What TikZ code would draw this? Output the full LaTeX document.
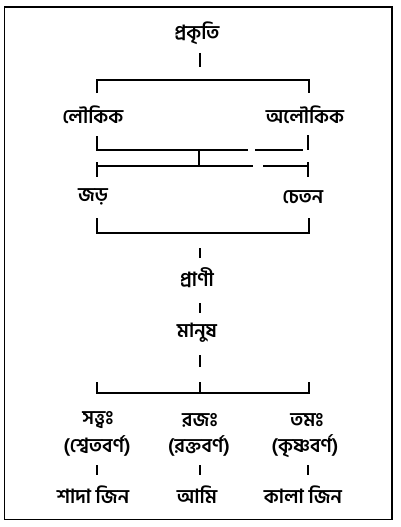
\documentclass[tikz,border=0pt]{standalone}
\usepackage{fontspec}
\newfontfamily\bn[Script=Bengali]{Hind Siliguri}
\begin{document}
\begin{tikzpicture}[x=1pt,y=-1pt,
  ln/.style={line width=1.1pt},
  lbl/.style={font=\bn\bfseries\fontsize{19.5}{23}\selectfont, inner sep=0pt, anchor=center}]
\useasboundingbox (0,0) rectangle (400,527);
\draw[line width=1.5pt] (4.5,7) rectangle (392,519.5);
% labels
\node[lbl] (prakriti) at (197,33) {প্রকৃতি};
\node[lbl] (laukik) at (93,115) {লৌকিক};
\node[lbl] (alaukik) at (305,115) {অলৌকিক};
\node[lbl] (jar) at (93,197) {জড়};
\node[lbl] (chetan) at (303,197) {চেতন};
\node[lbl] (prani) at (197,278) {প্রাণী};
\node[lbl] (manush) at (197,333) {মানুষ};
\node[lbl] (sattva) at (98,420) {সত্ত্বঃ};
\node[lbl] (raja) at (200,420) {রজঃ};
\node[lbl] (tama) at (307,420) {তমঃ};
\node[lbl] (sveta) at (97,446) {(শ্বেতবর্ণ)};
\node[lbl] (rakta) at (199,446) {(রক্তবর্ণ)};
\node[lbl] (krishna) at (305,446) {(কৃষ্ণবর্ণ)};
\node[lbl] (sada) at (93,495) {শাদা জিন};
\node[lbl] (ami) at (197,495) {আমি};
\node[lbl] (kala) at (303,495) {কালা জিন};
% junction coordinates
\coordinate (t1a) at (200,53); \coordinate (t1b) at (200,67);
\coordinate (b1L) at (97,80); \coordinate (b1R) at (309,80);
\coordinate (b1Ld) at (97,93); \coordinate (b1Rd) at (309,93);
\coordinate (u2L) at (97,136); \coordinate (u2R) at (308,135);
\coordinate (l2L) at (97,150); \coordinate (l2a) at (248,150);
\coordinate (l2b) at (255,150); \coordinate (l2R) at (303,150);
\coordinate (l2R2) at (308,150);
\coordinate (m2) at (199,150); \coordinate (m3) at (199,166);
\coordinate (l3L) at (97,166); \coordinate (l3a) at (253,166);
\coordinate (l3b) at (263,166); \coordinate (l3R) at (308,166);
\coordinate (c3Lt) at (97,162); \coordinate (c3Lb) at (97,177);
\coordinate (c3Rt) at (308,162); \coordinate (c3Rb) at (308,177);
\coordinate (b4Lt) at (97,218); \coordinate (b4L) at (97,233);
\coordinate (b4Rt) at (309,218); \coordinate (b4R) at (309,233);
\coordinate (t5a) at (200,248); \coordinate (t5b) at (200,258);
\coordinate (t6a) at (200,303); \coordinate (t6b) at (200,313);
\coordinate (t7a) at (200,355); \coordinate (t7b) at (200,367);
\coordinate (b8Lt) at (97,382); \coordinate (b8L) at (97,393);
\coordinate (b8Mt) at (200,382); \coordinate (b8M) at (200,393);
\coordinate (b8Rt) at (309,382); \coordinate (b8R) at (309,393);
\coordinate (t9La) at (97,465); \coordinate (t9Lb) at (97,475);
\coordinate (t9Ma) at (200,465); \coordinate (t9Mb) at (200,475);
\coordinate (t9Ra) at (308,465); \coordinate (t9Rb) at (308,475);
% connectors
\draw[ln] (t1a) -- (t1b);
\draw[ln] (b1Ld) -- (b1L) -- (b1R) -- (b1Rd);
\draw[ln] (u2L) -- (l2L) -- (l2a);
\draw[ln] (l2b) -- (l2R);
\draw[ln] (u2R) -- (l2R2);
\draw[ln] (m2) -- (m3);
\draw[ln] (l3L) -- (l3a);
\draw[ln] (l3b) -- (l3R);
\draw[ln] (c3Lt) -- (c3Lb);
\draw[ln] (c3Rt) -- (c3Rb);
\draw[ln] (b4Lt) -- (b4L) -- (b4R) -- (b4Rt);
\draw[ln] (t5a) -- (t5b);
\draw[ln] (t6a) -- (t6b);
\draw[ln] (t7a) -- (t7b);
\draw[ln] (b8Lt) -- (b8L) -- (b8R) -- (b8Rt);
\draw[ln] (b8Mt) -- (b8M);
\draw[ln] (t9La) -- (t9Lb);
\draw[ln] (t9Ma) -- (t9Mb);
\draw[ln] (t9Ra) -- (t9Rb);
\end{tikzpicture}
\end{document}
